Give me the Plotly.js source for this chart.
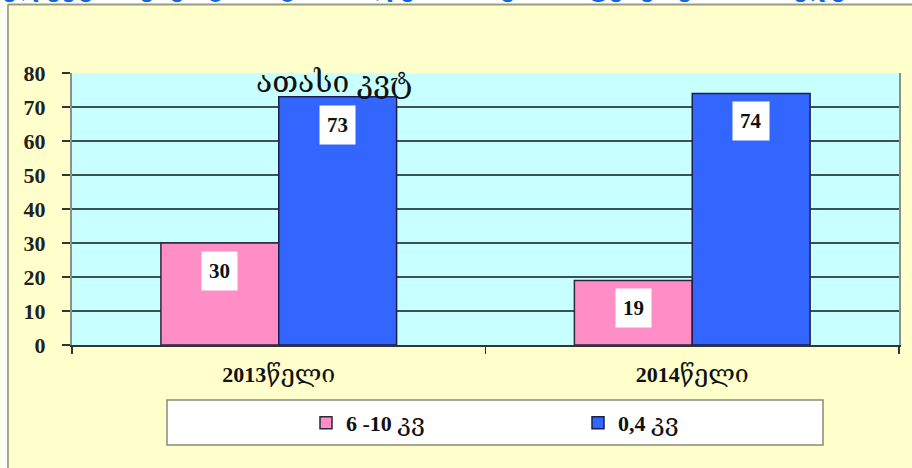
<!DOCTYPE html>
<html>
<head>
<meta charset="utf-8">
<script src="https://cdn.plot.ly/plotly-3.0.1.min.js"></script>
<style>html,body{margin:0;padding:0;background:#fff;}#chart{width:912px;height:468px;}</style>
</head>
<body>
<div id="chart"></div>
<script>
// ---- data ----
const categories = ['<b>2013</b><span style="font-size:25px">წელი</span>', '<b>2014</b><span style="font-size:25px">წელი</span>'];
const seriesNames = ['<b>6 -10</b> <span style="font-size:25px">კვ</span>', '<b>0,4</b> <span style="font-size:25px">კვ</span>'];
const values610 = [30, 19];
const values04 = [73, 74];
const unitLabel = 'ათასი კვტ';
const titleText = 'ელექტროენერგიის განაწილება ძაბვის საფეხურების მიხედვით';

const serif = 'Liberation Serif, DejaVu Serif, serif';
const pink = '#FF8EC6';
const blue = '#3366FF';

const traces = [
  {type: 'bar', name: seriesNames[0], x: categories, y: values610,
   marker: {color: pink, line: {color: '#2a2a3a', width: 1.5}}, hoverinfo: 'none'},
  {type: 'bar', name: seriesNames[1], x: categories, y: values04,
   marker: {color: blue, line: {color: '#1a1f50', width: 1.5}}, hoverinfo: 'none'}
];

// px -> paper helpers for decoration (plot area: l=72, r=899, t=73, b=345)
const L = 72, R = 899, T = 73, B = 345;
const px = v => (v - L) / (R - L);
const py = v => (B - v) / (B - T);

const annotations = [];
const barShift = 59;
[values610, values04].forEach((vals, s) => {
  vals.forEach((v, i) => {
    annotations.push({
      x: categories[i], y: v, xref: 'x', yref: 'y',
      text: '<b>' + v + '</b>', showarrow: false,
      xshift: s === 0 ? -barShift : barShift, yanchor: 'top', yshift: -8,
      bgcolor: '#ffffff', borderpad: 7,
      font: {family: serif, size: 21, color: '#111'}
    });
  });
});
annotations.push({
  x: categories[0], y: values04[0], xref: 'x', yref: 'y',
  text: unitLabel, showarrow: false, xshift: 55, yanchor: 'bottom', yshift: -4,
  font: {family: serif, size: 30, color: '#111'}
});
annotations.push({
  x: px(0), y: py(4), xref: 'paper', yref: 'paper', xanchor: 'left', yanchor: 'bottom',
  text: '<b>' + titleText + '</b>', showarrow: false,
  font: {family: 'DejaVu Sans, sans-serif', size: 27, color: '#1166DD'}
});

const shapes = [
  {type: 'rect', xref: 'paper', yref: 'paper', x0: px(-5), x1: px(920), y0: py(-5), y1: py(4.5),
   fillcolor: '#ffffff', line: {width: 0}, layer: 'below'},
  {type: 'rect', xref: 'paper', yref: 'paper', x0: px(-5), x1: px(8), y0: py(480), y1: py(4.5),
   fillcolor: '#FFFFF0', line: {width: 0}, layer: 'below'},
  {type: 'line', xref: 'paper', yref: 'paper', x0: px(8), x1: px(920), y0: py(4.5), y1: py(4.5),
   line: {color: '#9a9a80', width: 2}},
  {type: 'line', xref: 'paper', yref: 'paper', x0: px(8), x1: px(8), y0: py(480), y1: py(4.5),
   line: {color: '#a8a890', width: 2}},
  {type: 'rect', xref: 'paper', yref: 'paper', x0: px(167), x1: px(823), y0: py(445), y1: py(400),
   fillcolor: '#ffffff', line: {color: '#8a8a7a', width: 1.5}, layer: 'below'}
];

const layout = {
  width: 912, height: 468,
  margin: {l: L, r: 912 - R, t: T, b: 468 - B, pad: 0, autoexpand: false},
  paper_bgcolor: '#FFFFCC',
  plot_bgcolor: '#C8FFFF',
  barmode: 'group', bargap: 0.43, bargroupgap: 0,
  showlegend: true,
  legend: {orientation: 'h', x: px(306), xanchor: 'left', y: py(423), yanchor: 'middle',
           bgcolor: 'rgba(0,0,0,0)', borderwidth: 0, entrywidth: 227, entrywidthmode: 'pixels',
           font: {family: serif, size: 22, color: '#111'}, traceorder: 'normal'},
  xaxis: {type: 'category', showgrid: false, showline: true, linecolor: '#333', linewidth: 1.5,
          ticks: 'outside', tickson: 'boundaries', ticklen: 7, tickcolor: '#333', tickwidth: 1.5,
          ticklabelstandoff: 9,
          tickfont: {family: serif, size: 22, color: '#111'}, zeroline: false, fixedrange: true},
  yaxis: {range: [0, 80], dtick: 10, tick0: 0, showgrid: true, gridcolor: '#3b5252', gridwidth: 1.5,
          showline: true, linecolor: '#8a9090', linewidth: 2, mirror: true,
          ticks: 'outside', ticklen: 8, tickcolor: '#333', tickwidth: 1.5, ticklabelstandoff: 12,
          tickfont: {family: serif, size: 22, color: '#222', weight: 'bold'}, zeroline: false, fixedrange: true},
  annotations: annotations,
  shapes: shapes
};

Plotly.newPlot('chart', traces, layout, {staticPlot: true, displayModeBar: false});
</script>
</body>
</html>
